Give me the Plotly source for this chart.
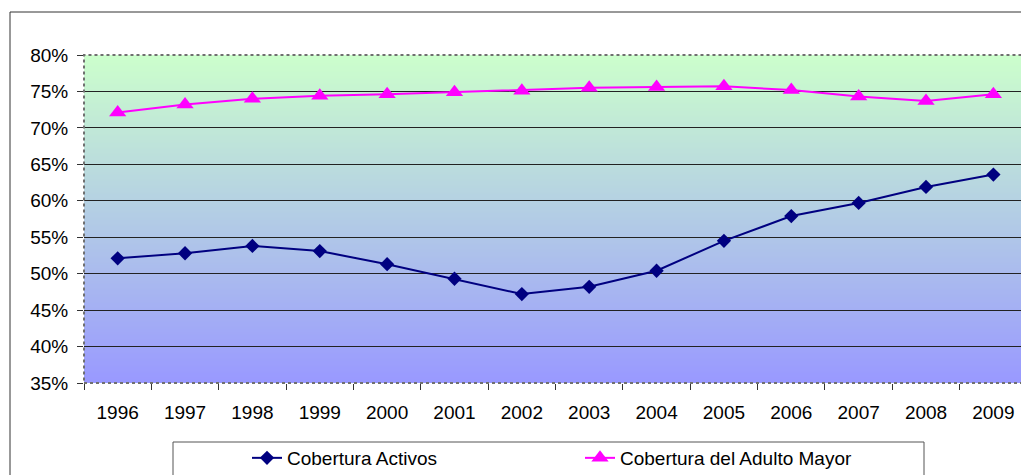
import zlib, struct, base64
import plotly.graph_objects as go

years = ["1996", "1997", "1998", "1999", "2000", "2001", "2002",
         "2003", "2004", "2005", "2006", "2007", "2008", "2009"]
activos = [0.521, 0.528, 0.538, 0.531, 0.513, 0.493, 0.472,
           0.482, 0.504, 0.545, 0.579, 0.597, 0.619, 0.636]
adulto_mayor = [0.721, 0.732, 0.740, 0.744, 0.746, 0.749, 0.751,
                0.755, 0.756, 0.757, 0.752, 0.743, 0.737, 0.746]
y_ticks = [0.35, 0.40, 0.45, 0.50, 0.55, 0.60, 0.65, 0.70, 0.75, 0.80]
y_tick_text = ["35%", "40%", "45%", "50%", "55%", "60%", "65%", "70%", "75%", "80%"]
grid_vals = y_ticks[1:-1]

W, H = 1021, 475
ML, MT, MB, MR = 84, 55, 92, 0
PW, PH = W - ML - MR, H - MT - MB


def px_x(px):
    return (px - ML) / PW


def px_y(py):
    return (H - MB - py) / PH


def png_gradient(top, bottom, h):
    rows = b""
    for i in range(h):
        t = i / (h - 1)
        c = [round(top[k] + (bottom[k] - top[k]) * t) for k in range(3)]
        rows += b"\x00" + bytes(c + c)

    def chunk(tag, data):
        c = struct.pack(">I", len(data)) + tag + data
        return c + struct.pack(">I", zlib.crc32(tag + data) & 0xFFFFFFFF)

    png = (b"\x89PNG\r\n\x1a\n"
           + chunk(b"IHDR", struct.pack(">IIBBBBB", 2, h, 8, 2, 0, 0, 0))
           + chunk(b"IDAT", zlib.compress(rows))
           + chunk(b"IEND", b""))
    return "data:image/png;base64," + base64.b64encode(png).decode()


font = "Liberation Sans, Arial, sans-serif"
FS = 19

fig = go.Figure()
fig.add_trace(go.Scatter(
    x=years, y=activos, name="Cobertura Activos", mode="lines+markers",
    line=dict(color="#000080", width=2),
    marker=dict(symbol="diamond", size=11, color="#000080"),
))
fig.add_trace(go.Scatter(
    x=years, y=adulto_mayor, name="Cobertura del Adulto Mayor", mode="lines+markers",
    line=dict(color="#FF00FF", width=2),
    marker=dict(symbol="triangle-up", size=15, color="#FF00FF"),
))

fig.update_layout(
    width=W, height=H,
    margin=dict(l=ML, r=MR, t=MT, b=MB, autoexpand=False),
    paper_bgcolor="white", plot_bgcolor="rgba(0,0,0,0)",
    font=dict(family=font, size=FS, color="black"),
    showlegend=True,
    legend=dict(orientation="h", x=px_x(247), xanchor="left",
                y=px_y(439), yanchor="top", bgcolor="rgba(0,0,0,0)",
                borderwidth=0, entrywidth=288, entrywidthmode="pixels",
                font=dict(family=font, size=FS, color="black")),
    images=[dict(source=png_gradient((204, 255, 204), (153, 153, 255), 256),
                 xref="paper", yref="paper", x=0, y=1, sizex=1, sizey=1,
                 xanchor="left", yanchor="top", sizing="stretch", layer="below")],
    shapes=[
        # plot area dotted border
        dict(type="rect", xref="paper", yref="paper", x0=0, x1=1.02, y0=0, y1=1,
             line=dict(color="#707070", width=2, dash="3px,3px"), layer="above"),
        # outer chart border
        dict(type="rect", xref="paper", yref="paper", x0=px_x(10), x1=px_x(1040),
             y0=px_y(500), y1=px_y(12), line=dict(color="#333333", width=1)),
        # legend box
        dict(type="rect", xref="paper", yref="paper", x0=px_x(173), x1=px_x(924),
             y0=px_y(500), y1=px_y(442), line=dict(color="#555555", width=1)),
    ],
    xaxis=dict(type="category", range=[-0.5, 13.41], showgrid=False,
               showline=False, zeroline=False, ticks="outside", tickson="boundaries",
               ticklen=6, tickcolor="#333333", ticklabelstandoff=16,
               tickfont=dict(family=font, size=FS, color="black")),
    yaxis=dict(range=[0.35, 0.80], tickmode="array", tickvals=y_ticks,
               ticktext=y_tick_text, showgrid=False, showline=False, zeroline=False,
               ticks="outside", ticklen=6, tickcolor="#333333", ticklabelstandoff=5,
               tickfont=dict(family=font, size=FS, color="black"),
               minor=dict(tickmode="array", tickvals=grid_vals, showgrid=True,
                          gridcolor="#222222", gridwidth=1, ticks="")),
)

fig.write_html("out.html", config={"displayModeBar": False},
               post_script="document.body.style.margin='0';document.body.style.overflow='hidden';")
